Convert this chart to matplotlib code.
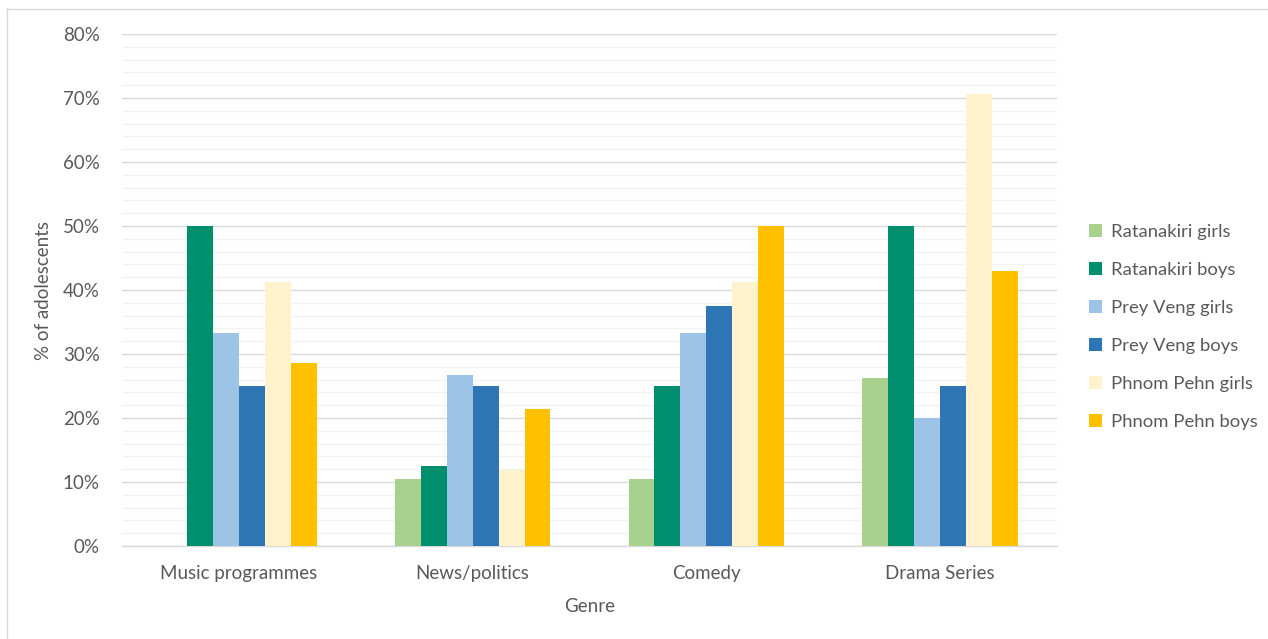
import numpy as np
import matplotlib.pyplot as plt
from matplotlib.lines import Line2D
from matplotlib.ticker import MultipleLocator, FuncFormatter

plt.rcParams['font.family'] = ['Lato', 'DejaVu Sans']

genres = ['Music programmes', 'News/politics', 'Comedy', 'Drama Series']
groups = ['Ratanakiri girls', 'Ratanakiri boys', 'Prey Veng girls',
          'Prey Veng boys', 'Phnom Pehn girls', 'Phnom Pehn boys']

ratanakiri_girls = [0.0, 10.5, 10.5, 26.3]
ratanakiri_boys = [50.0, 12.5, 25.0, 50.0]
prey_veng_girls = [33.3, 26.7, 33.3, 20.0]
prey_veng_boys = [25.0, 25.0, 37.5, 25.0]
phnom_pehn_girls = [41.2, 11.8, 41.2, 70.6]
phnom_pehn_boys = [28.6, 21.4, 50.0, 42.9]

series = [ratanakiri_girls, ratanakiri_boys, prey_veng_girls,
          prey_veng_boys, phnom_pehn_girls, phnom_pehn_boys]
colors = ['#A9D18E', '#008F6E', '#9DC3E6', '#2E75B6', '#FFF2CC', '#FFC000']

text_col = '#595959'
W, H = 1268, 639

fig = plt.figure(figsize=(W / 100, H / 100), dpi=100)
ax = fig.add_axes([122 / W, 1 - 546 / H, (1057 - 122) / W, (546 - 34) / H])

x = np.arange(len(genres))
width = 0.111
for i, (vals, c, lab) in enumerate(zip(series, colors, groups)):
    ax.bar(x + (i - 2.5) * width, vals, width, color=c, label=lab, zorder=3)

ax.set_xlim(-0.5, len(genres) - 0.5)
ax.set_ylim(0, 80)
ax.yaxis.set_major_locator(MultipleLocator(10))
ax.yaxis.set_minor_locator(MultipleLocator(2))
ax.yaxis.set_major_formatter(FuncFormatter(lambda v, p: f'{v:.0f}%'))
ax.grid(axis='y', which='major', color='#D9D9D9', lw=1.0, zorder=0)
ax.grid(axis='y', which='minor', color='#F2F2F2', lw=1.0, zorder=0)
ax.set_axisbelow(True)

for s in ['top', 'right', 'left']:
    ax.spines[s].set_visible(False)
ax.spines['bottom'].set_color('#D9D9D9')
ax.spines['bottom'].set_linewidth(1.0)

ax.set_xticks(x)
ax.set_xticklabels(genres)
ax.tick_params(axis='both', which='both', length=0, colors=text_col, labelsize=13.5)
ax.tick_params(axis='x', pad=14)
ax.tick_params(axis='y', pad=16)

ax.set_xlabel('Genre', color=text_col, fontsize=13.5, labelpad=11)
ax.set_ylabel('% of adolescents', color=text_col, fontsize=13.5, labelpad=8)

leg = ax.legend(loc='center left', bbox_to_anchor=(1.016, 0.428), frameon=False,
                fontsize=13.3, labelspacing=1.18, handlelength=0.75,
                handleheight=0.75, handletextpad=0.45)
for t in leg.get_texts():
    t.set_color(text_col)

# chart border (only left and top edges visible in the crop)
fig.add_artist(Line2D([7 / W, 7 / W], [0, 1 - 9 / H], transform=fig.transFigure,
                      color='#D9D9D9', lw=1))
fig.add_artist(Line2D([7 / W, 1], [1 - 9 / H, 1 - 9 / H], transform=fig.transFigure,
                      color='#D9D9D9', lw=1))

fig.savefig('out.png', dpi=100)
